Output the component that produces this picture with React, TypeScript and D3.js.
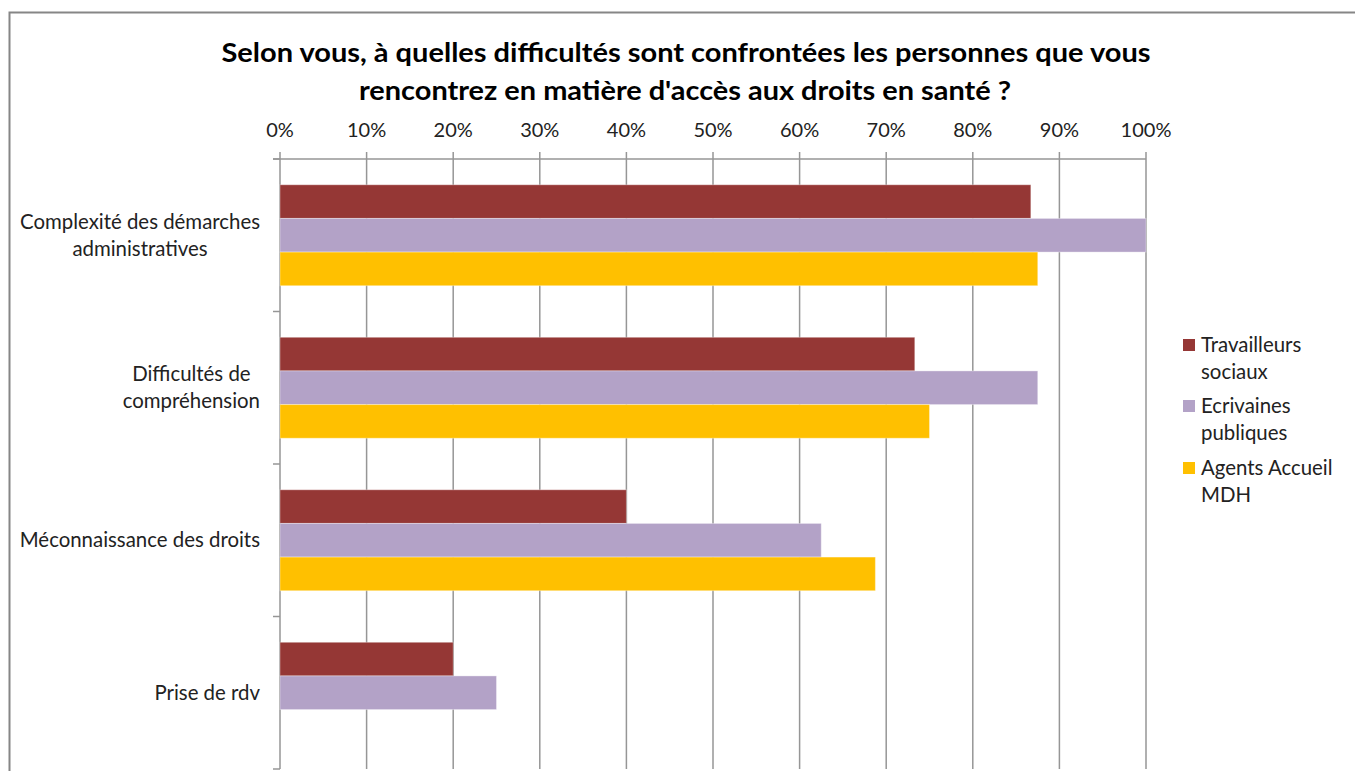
import React, { useEffect, useRef } from "react";
import * as d3 from "d3";

const categories = [
  ["Complexité des démarches", "administratives"],
  ["Difficultés de", "compréhension"],
  ["Méconnaissance des droits"],
  ["Prise de rdv"],
];
const seriesNames = [["Travailleurs", "sociaux"], ["Ecrivaines", "publiques"], ["Agents Accueil", "MDH"]];
const travailleurs = [0.867, 0.733, 0.4, 0.2];
const ecrivaines = [1.0, 0.875, 0.625, 0.25];
const agents = [0.875, 0.75, 0.6875, 0];
const colors = ["#953735", "#B3A2C7", "#FFC000"];
const xTicks = [0, 0.1, 0.2, 0.3, 0.4, 0.5, 0.6, 0.7, 0.8, 0.9, 1.0];
const titleLines = [
  "Selon vous, à quelles difficultés sont confrontées les personnes que vous",
  "rencontrez en matière d'accès aux droits en santé ?",
];

const FONT = "Lato, 'Open Sans', sans-serif";

export default function App() {
  const ref = useRef<SVGSVGElement>(null);
  useEffect(() => {
    const svg = d3.select(ref.current);
    svg.selectAll("*").remove();
    const W = 1355, H = 771;
    const left = 280, right = 1146, top = 159, bottom = 769;

    svg.append("rect").attr("x", 0).attr("y", 0).attr("width", W).attr("height", H).attr("fill", "#fff");
    svg.append("rect").attr("x", 9.5).attr("y", 12.5).attr("width", W + 20).attr("height", H + 20)
      .attr("fill", "none").attr("stroke", "#868686").attr("stroke-width", 2);

    // title
    svg.append("text").attr("x", 686).attr("y", 62).attr("text-anchor", "middle")
      .attr("font-family", FONT).attr("font-weight", "bold").attr("font-size", 27).attr("fill", "#000")
      .attr("textLength", 929).attr("lengthAdjust", "spacingAndGlyphs").text(titleLines[0]);
    svg.append("text").attr("x", 685).attr("y", 100).attr("text-anchor", "middle")
      .attr("font-family", FONT).attr("font-weight", "bold").attr("font-size", 27).attr("fill", "#000")
      .attr("textLength", 652).attr("lengthAdjust", "spacingAndGlyphs").text(titleLines[1]);

    const x = d3.scaleLinear().domain([0, 1]).range([left, right]);
    const y = d3.scaleBand<number>().domain(d3.range(categories.length)).range([top, bottom])
      .paddingInner(0.338).paddingOuter(0.169);
    const ys = d3.scaleBand<number>().domain([0, 1, 2]).range([0, y.bandwidth()]).padding(0);
    const step = y.step();

    // gridlines
    svg.append("g").selectAll("line").data(xTicks).join("line")
      .attr("x1", d => x(d)).attr("x2", d => x(d)).attr("y1", top - 7).attr("y2", bottom)
      .attr("stroke", "#969696").attr("stroke-width", 1.5);
    // top axis line
    svg.append("line").attr("x1", left - 7).attr("x2", right).attr("y1", top).attr("y2", top)
      .attr("stroke", "#969696").attr("stroke-width", 1.5);
    // category ticks
    svg.append("g").selectAll("line").data(d3.range(categories.length + 1)).join("line")
      .attr("x1", left - 7).attr("x2", left).attr("y1", i => top + i * step).attr("y2", i => top + i * step)
      .attr("stroke", "#969696").attr("stroke-width", 1.5);

    // tick labels
    svg.append("g").selectAll("text").data(xTicks).join("text")
      .attr("x", d => x(d)).attr("y", 137).attr("text-anchor", "middle")
      .attr("font-family", FONT).attr("font-size", 20).attr("fill", "#222")
      .text(d => d3.format(".0%")(d));

    // bars
    const series = [travailleurs, ecrivaines, agents];
    series.forEach((vals, s) => {
      svg.append("g").selectAll("rect").data(vals).join("rect")
        .attr("x", x(0)).attr("y", (_, i) => (y(i) as number) + (ys(s) as number))
        .attr("width", d => x(d) - x(0)).attr("height", ys.bandwidth())
        .attr("fill", colors[s]).attr("stroke", "rgba(255,255,255,0.35)").attr("stroke-width", 1);
    });

    // category labels (block right-aligned, lines centered)
    const labelRight = 260;
    categories.forEach((lines, i) => {
      const cy = (y(i) as number) + y.bandwidth() / 2;
      const g = svg.append("g");
      const texts = lines.map((ln, k) =>
        g.append("text").attr("font-family", FONT).attr("font-size", 20.4).attr("fill", "#222")
          .attr("text-anchor", "middle")
          .attr("y", cy + (k - (lines.length - 1) / 2) * 27 + 7).text(ln)
      );
      const maxW = d3.max(texts, t => (t.node() as SVGTextElement).getComputedTextLength()) || 0;
      texts.forEach(t => t.attr("x", labelRight - maxW / 2));
    });

    // legend
    const legY = [352, 413, 475];
    seriesNames.forEach((lines, s) => {
      svg.append("rect").attr("x", 1183).attr("y", legY[s] - 13).attr("width", 12).attr("height", 12)
        .attr("fill", colors[s]);
      lines.forEach((ln, k) => {
        svg.append("text").attr("x", 1201).attr("y", legY[s] + k * 27 + 0)
          .attr("font-family", FONT).attr("font-size", 20.4).attr("fill", "#222").text(ln);
      });
    });
  }, []);
  return (
    <svg ref={ref} width={1355} height={771}
      style={{ position: "absolute", left: 0, top: 0, display: "block" }} />
  );
}
